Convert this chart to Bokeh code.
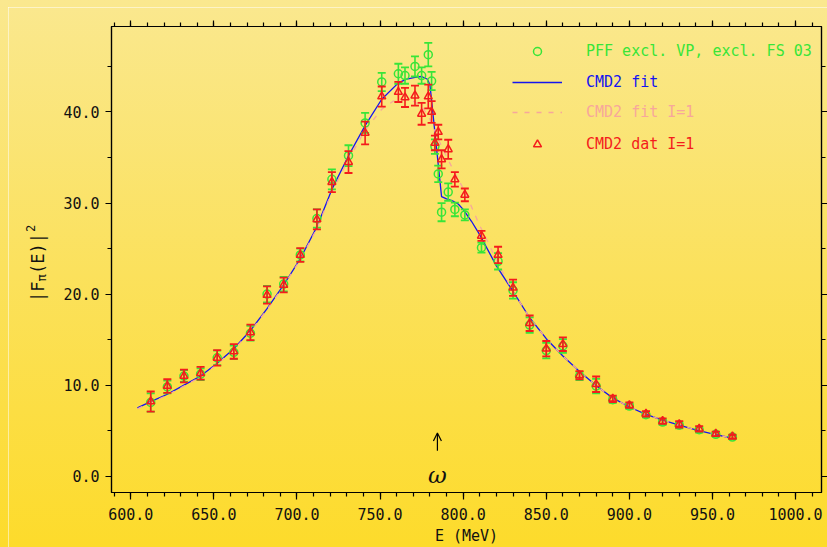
import math
from bokeh.plotting import figure
from bokeh.layouts import row
from bokeh.models import (LinearAxis, SingleIntervalTicker, NumeralTickFormatter, Range1d,
                          Legend, LegendItem, Label, Arrow, OpenHead)
from bokeh.core.properties import value
from bokeh.embed import file_html
from bokeh.resources import INLINE

# ---------------- data ----------------
energy = [612, 622, 632, 642, 652, 662, 672, 682, 692, 702, 712, 721, 731, 741, 751,
          761, 765, 771, 775, 779, 781, 783, 785, 787, 791, 795, 801, 811, 821, 830,
          840, 850, 860, 870, 880, 890, 900, 910, 920, 930, 942, 952, 962]

pff_val = [8.1, 9.8, 11.0, 11.2, 13.0, 13.6, 15.7, 20.0, 21.1, 24.3, 28.3, 32.6, 35.2, 38.8, 43.3,
           44.2, 44.0, 45.0, 44.0, 46.3, 43.4, 36.2, 33.2, 29.0, 31.2, 29.3, 28.7, 25.1, 23.6, 20.4,
           16.6, 13.8, 14.3, 11.0, 9.9, 8.4, 7.7, 6.75, 5.95, 5.6, 5.1, 4.6, 4.3]
pff_err = [1.0, 0.7, 0.65, 0.65, 0.8, 0.75, 0.8, 0.9, 0.8, 0.7, 1.0, 1.1, 1.15, 1.1, 1.0,
           1.1, 0.9, 1.1, 0.9, 1.3, 1.0, 0.8, 0.9, 1.0, 0.95, 0.75, 0.6, 0.55, 0.9, 0.9,
           0.85, 0.85, 0.75, 0.45, 0.8, 0.35, 0.3, 0.3, 0.3, 0.35, 0.3, 0.25, 0.2]

cmd_val = [8.2, 9.9, 11.0, 11.3, 13.0, 13.7, 15.8, 19.9, 21.0, 24.3, 28.2, 32.3, 34.5, 37.7, 41.7,
           42.2, 41.6, 41.8, 39.8, 41.7, 40.0, 36.6, 37.8, 34.8, 35.9, 32.6, 30.9, 26.4, 24.3, 20.7,
           16.8, 14.0, 14.5, 11.1, 10.1, 8.5, 7.8, 6.85, 6.05, 5.7, 5.2, 4.65, 4.35]
cmd_err = [1.1, 0.75, 0.7, 0.7, 0.85, 0.8, 0.85, 0.95, 0.8, 0.75, 1.1, 1.1, 1.2, 1.25, 1.1,
           1.1, 1.05, 1.1, 1.2, 1.3, 1.2, 0.8, 0.8, 1.0, 1.05, 0.8, 0.7, 0.55, 0.9, 0.9,
           0.85, 0.85, 0.75, 0.45, 0.85, 0.35, 0.3, 0.3, 0.3, 0.35, 0.3, 0.25, 0.2]

fit_e = [604, 612, 622, 632, 642, 652, 662, 672, 682, 692, 702, 712, 721, 731, 741, 751,
         761, 766, 771, 775, 778.5, 780, 787, 790, 794, 797, 800, 805, 810, 820, 830, 840,
         850, 860, 870, 880, 890, 900, 910, 920, 930, 940, 950, 960]
fit_val = [7.5, 8.2, 9.0, 10.0, 11.0, 12.4, 14.0, 16.0, 18.4, 21.0, 23.9, 27.4, 31.5, 35.2, 38.5, 41.4,
           43.2, 43.6, 43.8, 43.9, 43.6, 43.0, 30.7, 30.45, 30.2, 29.9, 29.3, 28.0, 26.5, 23.1, 20.3, 17.4,
           15.1, 13.2, 11.5, 9.95, 8.6, 7.6, 6.8, 6.15, 5.6, 5.1, 4.65, 4.25]

fit1_e = [604, 612, 622, 632, 642, 652, 662, 672, 682, 692, 702, 712, 721, 731, 741, 751,
          758, 765, 771, 776, 780, 785, 790, 795, 800, 805, 810, 815, 820, 830, 840, 850,
          860, 870, 880, 890, 900, 910, 920, 930, 940, 950, 960]
fit1_val = [7.4, 8.1, 8.9, 9.9, 10.9, 12.3, 13.9, 15.9, 18.3, 20.9, 23.8, 27.2, 31.2, 34.8, 38.0, 40.3,
            41.2, 41.4, 41.1, 40.4, 39.2, 37.0, 35.1, 33.3, 31.6, 29.6, 27.5, 25.7, 23.7, 20.3, 17.4, 15.1,
            13.2, 11.5, 9.95, 8.6, 7.6, 6.8, 6.15, 5.6, 5.1, 4.65, 4.25]

legend_labels = ["PFF excl. VP, excl. FS 03", "CMD2 fit", "CMD2 fit I=1", "CMD2 dat I=1"]
ytitle_parts = ["|F", "π", "(E)|", "2"]
omega_pos = 784.5

GREEN = "#38E538"
BLUE = "#1414F0"
PINK = "#F7A79C"
RED = "#F41C1C"
INK = "#111111"
FONT = "DejaVu Sans Mono"

W, H = 827, 547
LEFT_W = 60                      # width of the strip holding the rotated y title
X0, X1 = 588.4, 1015.6
Y0, Y1 = -1.79, 49.39
FRAME_LEFT, FRAME_RIGHT, FRAME_TOP, FRAME_BOTTOM = 110, 822, 26, 493

# ---------------- main figure ----------------
p = figure(width=W - LEFT_W, height=H, output_backend="svg", toolbar_location=None,
           x_range=Range1d(X0, X1), y_range=Range1d(Y0, Y1),
           min_border_left=FRAME_LEFT - LEFT_W, min_border_right=W - FRAME_RIGHT,
           min_border_top=FRAME_TOP, min_border_bottom=H - FRAME_BOTTOM,
           background_fill_color=None, border_fill_color=None,
           outline_line_color="black", outline_line_width=1.2)
p.grid.visible = False

xt = SingleIntervalTicker(interval=50, num_minor_ticks=5)
yt = SingleIntervalTicker(interval=10, num_minor_ticks=2)

def style_axis(ax, show_labels):
    ax.axis_line_color = "black"
    ax.axis_line_width = 1.2
    ax.major_tick_line_color = "black"
    ax.minor_tick_line_color = "black"
    ax.major_tick_line_width = 1.2
    ax.minor_tick_line_width = 1.2
    ax.major_tick_in = 0
    ax.minor_tick_in = 0
    ax.major_tick_out = 6
    ax.minor_tick_out = 4
    if show_labels:
        ax.major_label_text_font = FONT
        ax.major_label_text_font_size = "15px"
        ax.major_label_text_color = INK
        ax.major_label_standoff = 6
        ax.formatter = NumeralTickFormatter(format="0.0")
    else:
        ax.major_label_text_font_size = "1px"
        ax.major_label_text_color = None
        ax.major_label_standoff = 0

p.xaxis.ticker = xt
p.yaxis.ticker = yt
style_axis(p.xaxis[0], True)
style_axis(p.yaxis[0], True)
p.xaxis.major_tick_out = 7
p.xaxis.major_label_standoff = 8
p.xaxis.axis_label = "E (MeV)"
p.xaxis.axis_label_text_font = FONT
p.xaxis.axis_label_text_font_size = "15px"
p.xaxis.axis_label_text_font_style = "normal"
p.xaxis.axis_label_text_color = INK
p.xaxis.axis_label_standoff = 4

top_ax = LinearAxis(ticker=xt)
style_axis(top_ax, False)
p.add_layout(top_ax, "above")
right_ax = LinearAxis(ticker=yt)
style_axis(right_ax, False)
p.add_layout(right_ax, "right")

# ---------------- curves ----------------
fit_r = p.line(fit_e, fit_val, line_color=BLUE, line_width=1.3)
fit1_r = p.line(fit1_e, fit1_val, line_color=PINK, line_width=1.3, line_dash="5 7")

# ---------------- data with error bars ----------------
def error_bars(xs, ys, errs, color):
    lo = [y - e for y, e in zip(ys, errs)]
    hi = [y + e for y, e in zip(ys, errs)]
    p.segment(xs, lo, xs, hi, line_color=color, line_width=1.6)
    p.scatter(xs, lo, marker="dash", size=8, line_color=color, line_width=1.8)
    p.scatter(xs, hi, marker="dash", size=8, line_color=color, line_width=1.8)

error_bars(energy, pff_val, pff_err, GREEN)
pff_r = p.scatter(energy, pff_val, marker="circle", size=8, fill_color=None,
                  line_color=GREEN, line_width=1.5)
error_bars(energy, cmd_val, cmd_err, RED)
cmd_r = p.scatter(energy, cmd_val, marker="triangle", size=8, fill_color=None,
                  line_color=RED, line_width=1.5)

# ---------------- legends (one per colour) ----------------
for label, rend, color, center in [(legend_labels[0], pff_r, GREEN, 52),
                                   (legend_labels[1], fit_r, BLUE, 82.5),
                                   (legend_labels[2], fit1_r, PINK, 113),
                                   (legend_labels[3], cmd_r, RED, 145)]:
    lg = Legend(items=[LegendItem(label=label, renderers=[rend])],
                location=(511 - FRAME_LEFT, FRAME_BOTTOM - (center + 10)),
                glyph_width=50, glyph_height=20, label_height=20, label_standoff=24,
                padding=0, margin=0, spacing=0, border_line_color=None,
                background_fill_alpha=0, label_text_font=FONT,
                label_text_font_size="15px", label_text_color=color)
    p.add_layout(lg)

# ---------------- omega marker ----------------
p.add_layout(Arrow(end=OpenHead(size=8, line_width=1.2, line_color="black"),
                   x_start=omega_pos, y_start=2.8, x_end=omega_pos, y_end=4.75,
                   line_width=1.2, line_color="black"))
p.add_layout(Label(x=omega_pos, y=0.1, text="ω", text_font="DejaVu Serif",
                   text_font_style="italic", text_font_size="23px",
                   text_align="center", text_baseline="middle", text_color=INK))

# ---------------- left strip: rotated y title |F_pi(E)|^2 ----------------
# its frame is aligned with the main frame (rows align plot frames), so the
# strip's y range is expressed in page pixels counted from the bottom.
t = figure(width=LEFT_W, height=H, output_backend="svg", toolbar_location=None,
           x_range=Range1d(0, LEFT_W), y_range=Range1d(H - FRAME_BOTTOM, H - FRAME_TOP),
           x_axis_type=None, y_axis_type=None,
           min_border_left=0, min_border_right=0,
           min_border_top=FRAME_TOP, min_border_bottom=H - FRAME_BOTTOM,
           background_fill_color=None, border_fill_color=None, outline_line_color=None)
t.grid.visible = False
t_x = [37, 41, 37, 30]
t_y = [H - 302, H - 281.5, H - 274, H - 232]
t_size = ["17px", "12px", "17px", "12px"]
for txt, bx, by, sz in zip(ytitle_parts, t_x, t_y, t_size):
    t.text(x=[bx], y=[by], text=[txt], angle=math.pi / 2,
           text_font=value(FONT), text_font_size=value(sz), text_color=INK,
           text_align="left", text_baseline="alphabetic")

layout = row(t, p, spacing=0)
layout.styles = {
    "background": (
        "linear-gradient(rgba(255,255,255,0.5), rgba(255,255,255,0.5)) 8px 7px / 1px 100% no-repeat, "
        "linear-gradient(rgba(255,255,255,0.5), rgba(255,255,255,0.5)) 8px 7px / 100% 1px no-repeat, "
        "linear-gradient(to bottom, #FAE88F 0%, #FBE15C 50%, #FDDB2B 100%)"
    ),
    "width": f"{W}px",
    "height": f"{H}px",
}

open("out.html", "w").write(file_html(layout, INLINE))
